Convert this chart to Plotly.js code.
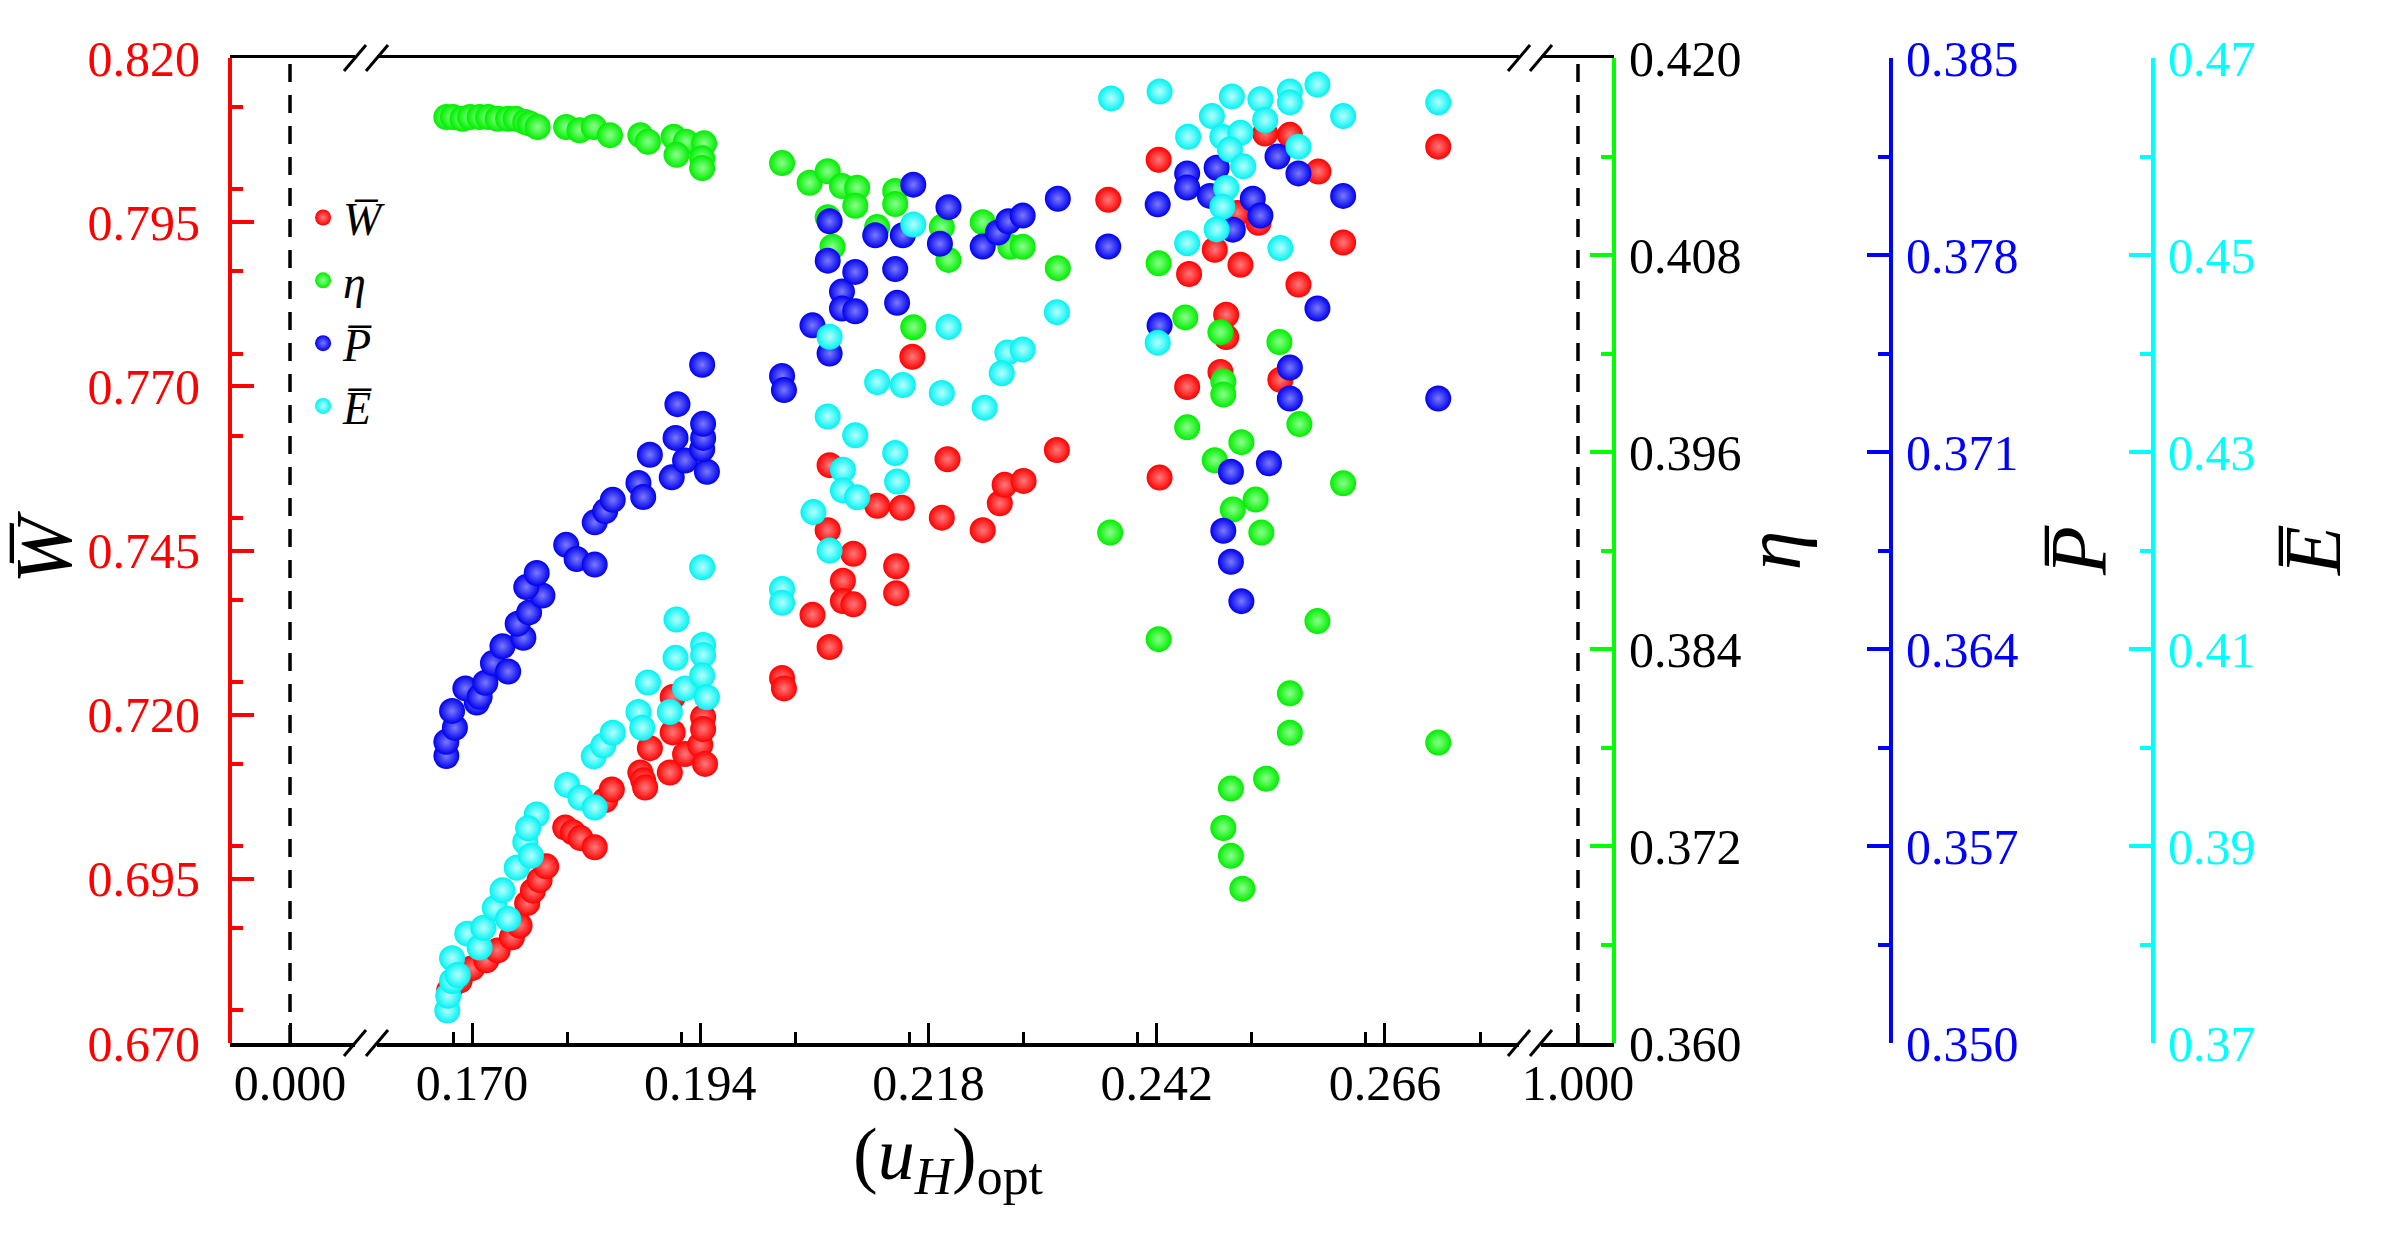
<!DOCTYPE html>
<html>
<head>
<meta charset="utf-8">
<script src="https://cdn.plot.ly/plotly-3.0.1.min.js"></script>
<style>body { margin: 0; background: #fff; }</style>
</head>
<body>
<div id="chart"></div>
<script>
// W (red, left axis)
const wX = [0.1676, 0.1687, 0.1700, 0.1715, 0.1727, 0.1742, 0.1750, 0.1758, 0.1764, 0.1771, 0.1778, 0.1798, 0.1806, 0.1814, 0.1829, 0.1840, 0.1847, 0.1877, 0.1880, 0.1882, 0.1887, 0.1908, 0.1911, 0.1924, 0.1940, 0.1943, 0.1943, 0.1945, 0.1911,
  0.2026, 0.2028, 0.2058, 0.2076, 0.2074, 0.2090, 0.2090, 0.2101, 0.2101, 0.2146, 0.2146, 0.2076, 0.2126, 0.2152, 0.2194, 0.2237, 0.2200, 0.2163, 0.2255, 0.2260, 0.2280, 0.2315, 0.2369,
  0.2422, 0.2423, 0.2452, 0.2454, 0.2481, 0.2487, 0.2493, 0.2493, 0.2508, 0.2505, 0.2527, 0.2534, 0.2560, 0.2550, 0.2569, 0.2590, 0.2616, 0.2716];
const wY = [0.6780, 0.6795, 0.6814, 0.6826, 0.6841, 0.6861, 0.6879, 0.6913, 0.6932, 0.6948, 0.6969, 0.7028, 0.7021, 0.7012, 0.6998, 0.7070, 0.7086, 0.7112, 0.7100, 0.7089, 0.7149, 0.7112, 0.7173, 0.7140, 0.7154, 0.7196, 0.7178, 0.7125, 0.7227,
  0.7256, 0.7240, 0.7352, 0.7303, 0.7481, 0.7404, 0.7373, 0.7445, 0.7368, 0.7426, 0.7385, 0.7580, 0.7518, 0.7515, 0.7500, 0.7481, 0.7589, 0.7745, 0.7522, 0.7550, 0.7556, 0.7603, 0.7984,
  0.8045, 0.7561, 0.7699, 0.7871, 0.7908, 0.7722, 0.7809, 0.7775, 0.7885, 0.7964, 0.7949, 0.8085, 0.8083, 0.7710, 0.7855, 0.8027, 0.7919, 0.8065];

// eta (green)
const etaX = [0.1673, 0.1680, 0.1690, 0.1698, 0.1708, 0.1717, 0.1727, 0.1738, 0.1746, 0.1756, 0.1761, 0.1769, 0.1799, 0.1813, 0.1828, 0.1845, 0.1877, 0.1885, 0.1912, 0.1925, 0.1944, 0.1915, 0.1942, 0.1942,
  0.2026, 0.2055, 0.2074, 0.2089, 0.2105, 0.2103, 0.2074, 0.2079, 0.2126, 0.2145, 0.2145, 0.2194, 0.2201, 0.2237, 0.2266, 0.2279, 0.2316, 0.2164, 0.2371,
  0.2422, 0.2450, 0.2487, 0.2549, 0.2490, 0.2490, 0.2452, 0.2570, 0.2509, 0.2481, 0.2524, 0.2500, 0.2530, 0.2616, 0.2589, 0.2422, 0.2560, 0.2560, 0.2716, 0.2535, 0.2498, 0.2490, 0.2498, 0.2510];
const etaY = [0.4164, 0.4164, 0.4163, 0.4164, 0.4164, 0.4164, 0.4163, 0.4163, 0.4163, 0.4161, 0.4160, 0.4158, 0.4158, 0.4156, 0.4158, 0.4153, 0.4153, 0.4149, 0.4152, 0.4149, 0.4148, 0.4141, 0.4139, 0.4133,
  0.4136, 0.4124, 0.4131, 0.4122, 0.4121, 0.4110, 0.4103, 0.4085, 0.4097, 0.4119, 0.4111, 0.4097, 0.4077, 0.4100, 0.4085, 0.4085, 0.4072, 0.4036, 0.3911,
  0.4075, 0.4042, 0.4033, 0.4027, 0.4003, 0.3995, 0.3975, 0.3977, 0.3966, 0.3955, 0.3931, 0.3925, 0.3911, 0.3941, 0.3857, 0.3846, 0.3813, 0.3789, 0.3783, 0.3761, 0.3755, 0.3731, 0.3714, 0.3694];

// P (blue)
const pX = [0.1673, 0.1673, 0.1682, 0.1679, 0.1705, 0.1693, 0.1708, 0.1714, 0.1722, 0.1738, 0.1732, 0.1754, 0.1748, 0.1760, 0.1774, 0.1757, 0.1768, 0.1799, 0.1810, 0.1829, 0.1829, 0.1840, 0.1848, 0.1875, 0.1880, 0.1887, 0.1910, 0.1924, 0.1914, 0.1947, 0.1942, 0.1943, 0.1943, 0.1916, 0.1942, 0.2026, 0.2028,
  0.2058, 0.2074, 0.2076, 0.2076, 0.2089, 0.2089, 0.2103, 0.2103, 0.2124, 0.2153, 0.2145, 0.2147, 0.2164, 0.2192, 0.2201, 0.2237, 0.2253, 0.2264, 0.2279, 0.2316, 0.2369,
  0.2421, 0.2423, 0.2452, 0.2452, 0.2483, 0.2476, 0.2500, 0.2521, 0.2529, 0.2547, 0.2569, 0.2616, 0.2589, 0.2560, 0.2560, 0.2538, 0.2498, 0.2490, 0.2498, 0.2509, 0.2716];
const pY = [0.3602, 0.3607, 0.3612, 0.3618, 0.3621, 0.3626, 0.3623, 0.3628, 0.3635, 0.3632, 0.3641, 0.3644, 0.3649, 0.3653, 0.3659, 0.3662, 0.3667, 0.3677, 0.3672, 0.3670, 0.3685, 0.3689, 0.3693, 0.3699, 0.3694, 0.3709, 0.3701, 0.3707, 0.3715, 0.3703, 0.3711, 0.3715, 0.3720, 0.3727, 0.3741, 0.3737, 0.3732,
  0.3755, 0.3778, 0.3792, 0.3745, 0.3767, 0.3761, 0.3774, 0.3760, 0.3787, 0.3787, 0.3775, 0.3763, 0.3805, 0.3784, 0.3797, 0.3783, 0.3788, 0.3792, 0.3794, 0.3800, 0.3783,
  0.3798, 0.3755, 0.3809, 0.3804, 0.3811, 0.3801, 0.3789, 0.3800, 0.3794, 0.3815, 0.3809, 0.3801, 0.3761, 0.3740, 0.3729, 0.3706, 0.3703, 0.3682, 0.3671, 0.3657, 0.3729];

// E (cyan)
const eX = [0.1674, 0.1675, 0.1679, 0.1679, 0.1685, 0.1695, 0.1708, 0.1712, 0.1724, 0.1732, 0.1738, 0.1747, 0.1756, 0.1762, 0.1768, 0.1759, 0.1800, 0.1814, 0.1829, 0.1828, 0.1838, 0.1848, 0.1875, 0.1879, 0.1885, 0.1908, 0.1915, 0.1914, 0.1924, 0.1942, 0.1943, 0.1943, 0.1942, 0.1947,
  0.2026, 0.2026, 0.2164, 0.2076, 0.2201, 0.2315, 0.2263, 0.2279, 0.2257, 0.2126, 0.2153, 0.2194, 0.2239, 0.2074, 0.2103, 0.2145, 0.2090, 0.2147, 0.2090, 0.2105, 0.2059, 0.2076,
  0.2421, 0.2423, 0.2372, 0.2499, 0.2529, 0.2560, 0.2560, 0.2589, 0.2478, 0.2534, 0.2453, 0.2489, 0.2508, 0.2497, 0.2569, 0.2511, 0.2493, 0.2489, 0.2483, 0.2452, 0.2550, 0.2616, 0.2716];
const eY = [0.3733, 0.3748, 0.3763, 0.3786, 0.3769, 0.3811, 0.3797, 0.3817, 0.3837, 0.3855, 0.3826, 0.3878, 0.3904, 0.3890, 0.3932, 0.3918, 0.3962, 0.3949, 0.3939, 0.3991, 0.4002, 0.4015, 0.4036, 0.4020, 0.4066, 0.4036, 0.4130, 0.4091, 0.4060, 0.4183, 0.4104, 0.4094, 0.4073, 0.4051,
  0.4161, 0.4147, 0.4531, 0.4417, 0.4427, 0.4442, 0.4401, 0.4404, 0.4380, 0.4371, 0.4368, 0.4360, 0.4345, 0.4336, 0.4317, 0.4299, 0.4282, 0.4270, 0.4261, 0.4254, 0.4239, 0.4200,
  0.4411, 0.4666, 0.4659, 0.4661, 0.4658, 0.4666, 0.4655, 0.4673, 0.4641, 0.4637, 0.4620, 0.4620, 0.4624, 0.4607, 0.4610, 0.4590, 0.4568, 0.4549, 0.4526, 0.4512, 0.4507, 0.4641, 0.4655];

const serif = "Liberation Serif, 'Times New Roman', serif";
const names = ["<i>W\u0305</i>", "<i>\u03b7</i>", "<i>P\u0305</i>", "<i>E\u0305</i>"];
const colors = ["#ff0000", "#00ee00", "#0000ee", "#00f2f2"];
const shines = ["#ff7a7a", "#8cff8c", "#7a7aff", "#b8ffff"];
const axisColors = ["#ff0000", "#00ff00", "#0000ff", "#00ffff"];

// break positions of the x axis (paper fraction)
const brk1 = 0.07072, brk2 = 0.67603, plotRight = 0.71971;

function dots(x, y, i, yaxis) {
  return {
    x, y, xaxis: "x2", yaxis, name: names[i],
    type: "scatter", mode: "markers",
    marker: {
      color: colors[i], size: 26, line: { width: 0 },
      gradient: { type: "radial", color: shines[i] }
    },
    hoverinfo: "skip"
  };
}
var data = [
  dots(wX, wY, 0, "y"),
  dots(etaX, etaY, 1, "y2"),
  dots(pX, pY, 2, "y3"),
  dots(eX, eY, 3, "y4"),
];

var xBase = {
  showline: true, linewidth: 3.5, linecolor: "black", mirror: true,
  ticks: "inside", ticklen: 20, tickwidth: 3, tickcolor: "black",
  showgrid: false, zeroline: false, anchor: "y", fixedrange: true,
  tickfont: { size: 50, color: "black" }, ticklabelstandoff: -7,
};
function yAxis(c, labelColor, minorStep, standoff, extra) {
  return Object.assign({
    showline: true, linewidth: 4, linecolor: c,
    ticks: "inside", ticklen: 22, tickwidth: 4, tickcolor: c,
    minor: { dtick: minorStep, ticks: "inside", ticklen: 11, tickwidth: 4, tickcolor: c, showgrid: false },
    showgrid: false, zeroline: false, anchor: "free", fixedrange: true,
    tickfont: { size: 50, color: labelColor }, ticklabelstandoff: standoff,
  }, extra);
}

function breakMarks(px) {
  let s = [];
  [0, 1].forEach(py => {
    s.push({
      type: "rect", xref: "paper", yref: "paper", layer: "above",
      xsizemode: "pixel", xanchor: px, x0: -11, x1: 11,
      ysizemode: "pixel", yanchor: py, y0: -5, y1: 5,
      fillcolor: "white", line: { width: 0 }
    });
    [-11, 11].forEach(dx => {
      s.push({
        type: "line", xref: "paper", yref: "paper", layer: "above",
        xsizemode: "pixel", xanchor: px, x0: dx - 11, x1: dx + 11,
        ysizemode: "pixel", yanchor: py, y0: -13, y1: 13,
        line: { color: "black", width: 3 }
      });
    });
  });
  return s;
}

var shapes = [
  { type: "line", xref: "x", yref: "paper", x0: 0, x1: 0, y0: 0, y1: 1, layer: "below",
    line: { color: "black", width: 3.5, dash: "18px,13px" } },
  { type: "line", xref: "x3", yref: "paper", x0: 1, x1: 1, y0: 0, y1: 1, layer: "below",
    line: { color: "black", width: 3.5, dash: "18px,13px" } },
].concat(breakMarks(brk1), breakMarks(brk2));

var layout = {
  width: 2392, height: 1245,
  margin: { l: 230, r: 239, t: 58, b: 202 },
  paper_bgcolor: "white", plot_bgcolor: "white",
  font: { family: serif, size: 50, color: "black" },
  hovermode: false,
  showlegend: true,
  legend: {
    x: 0.038, y: 0.875, xanchor: "left", yanchor: "top",
    bgcolor: "rgba(0,0,0,0)", font: { size: 46 }, tracegroupgap: 0
  },
  xaxis: Object.assign({}, xBase, {
    domain: [0, brk1], range: [-0.00631, 0.00799],
    tickvals: [0], ticktext: ["0.000"]
  }),
  xaxis2: Object.assign({}, xBase, {
    domain: [brk1, brk2], range: [0.15885, 0.28125],
    tick0: 0.170, dtick: 0.024, tickformat: ".3f",
    minor: { dtick: 0.012, ticks: "inside", ticklen: 11, tickwidth: 3, tickcolor: "black", showgrid: false },
    title: {
      text: "(<i>u</i><sub><i>H</i></sub>)<sub>opt</sub>",
      font: { size: 74 }, standoff: 18
    }
  }),
  xaxis3: Object.assign({}, xBase, {
    domain: [brk2, plotRight], range: [0.99495, 1.00379],
    tickvals: [1], ticktext: ["1.000"]
  }),
  yaxis: yAxis(axisColors[0], "#ff0000", 0.0125, 18, {
    position: 0, range: [0.670, 0.820], tick0: 0.670, dtick: 0.025, tickformat: ".3f",
    title: { text: "<i>W\u0305</i>", font: { size: 80, color: "black" }, standoff: 14 }
  }),
  yaxis2: yAxis(axisColors[1], "black", 0.006, 3, {
    overlaying: "y", side: "right", position: plotRight,
    range: [0.360, 0.420], tick0: 0.360, dtick: 0.012, tickformat: ".3f",
    title: { text: "<i>\u03b7</i>", font: { size: 80, color: "black" }, standoff: 2 }
  }),
  yaxis3: yAxis(axisColors[2], "#0000ff", 0.0035, 3, {
    overlaying: "y", side: "right", position: 0.86375,
    range: [0.350, 0.385], tick0: 0.350, dtick: 0.007, tickformat: ".3f",
    title: { text: "<i>P\u0305</i>", font: { size: 80, color: "black" }, standoff: 32 }
  }),
  yaxis4: yAxis(axisColors[3], "#00ffff", 0.01, 3, {
    overlaying: "y", side: "right", position: 1,
    range: [0.37, 0.47], tick0: 0.37, dtick: 0.02, tickformat: ".2f",
    title: { text: "<i>E\u0305</i>", font: { size: 80, color: "black" }, standoff: 28 }
  }),
  shapes
};

Plotly.newPlot("chart", data, layout, { displayModeBar: false, staticPlot: true });
</script>
</body>
</html>
